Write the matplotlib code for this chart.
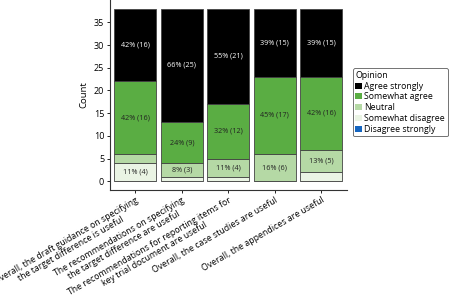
import matplotlib
matplotlib.use("Agg")
import matplotlib.pyplot as plt
from matplotlib.patches import Patch
import numpy as np

plt.rcParams['font.family'] = ['Open Sans', 'DejaVu Sans']

questions = [
    "Overall, the draft guidance on specifying\nthe target difference is useful",
    "The recommendations on specifying\nthe target difference are useful",
    "The recommendations for reporting items for\nkey trial document are useful",
    "Overall, the case studies are useful",
    "Overall, the appendices are useful",
]
# stacked bottom to top
opinions = ["Disagree strongly", "Somewhat disagree", "Neutral", "Somewhat agree", "Agree strongly"]
disagree_strongly = [0, 0, 0, 0, 0]
somewhat_disagree = [4, 1, 1, 0, 2]
neutral = [2, 3, 4, 6, 5]
somewhat_agree = [16, 9, 12, 17, 16]
agree_strongly = [16, 25, 21, 15, 15]
colors = ["#1565c0", "#eaf4e4", "#b5d9a5", "#5aad43", "#000000"]
text_colors = ["white", "#222222", "#222222", "#222222", "white"]

series = [disagree_strongly, somewhat_disagree, neutral, somewhat_agree, agree_strongly]

fig = plt.figure(figsize=(4.5, 2.96), dpi=100)
ax = fig.add_axes([0.244, 0.358, 0.527, 0.642])

x = np.arange(len(questions))
totals = np.sum(series, axis=0)
bottom = np.zeros(len(questions))
for vals, col, tc in zip(series, colors, text_colors):
    vals = np.array(vals)
    ax.bar(x, vals, bottom=bottom, width=0.9, color=col, edgecolor="#444444", linewidth=0.6)
    for xi, v, b, t in zip(x, vals, bottom, totals):
        if v >= 3:
            pct = round(v / t * 100)
            ax.text(xi, b + v / 2, f"{pct}% ({v})", ha="center", va="center",
                    fontsize=5.2, color=tc)
    bottom += vals

ax.set_xlim(-0.55, 4.55)
ax.set_ylim(-1.9, 39.9)
ax.set_yticks(range(0, 36, 5))
ax.set_ylabel("Count", fontsize=6.8)
ax.tick_params(axis="both", labelsize=6.5, length=2.5, width=0.6, pad=1.5)
ax.set_xticks(x)
ax.set_xticklabels(questions, rotation=30, ha="right", rotation_mode="anchor",
                   multialignment="center", fontsize=6.3, linespacing=1.1)
for s in ["top", "right"]:
    ax.spines[s].set_visible(False)
for s in ["left", "bottom"]:
    ax.spines[s].set_linewidth(0.8)
    ax.spines[s].set_color("#333333")

handles = [Patch(facecolor=c, edgecolor="none") for c in colors[::-1]]
leg = fig.legend(handles, opinions[::-1], title="Opinion", loc="upper left",
                 bbox_to_anchor=(0.78, 0.775), fontsize=6.3, title_fontsize=6.3,
                 handlelength=0.7, handleheight=0.7, handletextpad=0.3,
                 labelspacing=0.2, borderpad=0.3, borderaxespad=0.2,
                 frameon=True, fancybox=True)
leg.get_frame().set_edgecolor("#333333")
leg.get_frame().set_linewidth(0.6)
leg._legend_box.align = "left"

fig.savefig("out.png", dpi=100)
